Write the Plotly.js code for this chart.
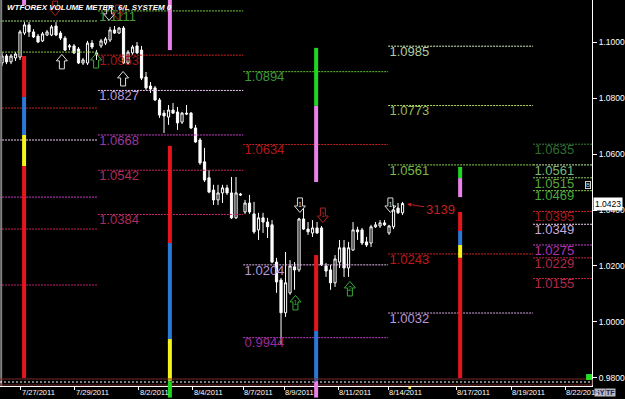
<!DOCTYPE html>
<html><head><meta charset="utf-8">
<script src="https://cdn.plot.ly/plotly-3.0.1.min.js"></script>
<style>html,body{margin:0;padding:0;background:#000;}#chart{width:625px;height:399px;}</style>
</head><body><div id="chart"></div>
<script>
// ---- candle data (4H bars, index = bar number) ----
const openP = [1.0925,1.0950,1.0929,1.0943,1.0946,1.1032,1.1061,1.1036,1.1021,1.1004,
1.1025,1.1025,1.1057,1.1032,1.1014,1.0982,1.0986,1.0975,1.0925,1.0925,
1.0996,1.0954,1.0986,1.0996,1.1007,1.1043,1.1032,1.1050,1.0925,1.0961,
1.0986,1.0971,1.0875,1.0843,1.0836,1.0793,1.0746,1.0732,1.0757,1.0750,
1.0714,1.0746,1.0746,1.0693,1.0650,1.0572,1.0515,1.0471,1.0436,1.0461,
1.0479,1.0461,1.0372,1.0457,1.0393,1.0425,1.0386,1.0329,1.0372,1.0357,
1.0347,1.0214,1.0150,1.0033,1.0104,1.0197,1.0186,1.0368,1.0332,1.0318,
1.0336,1.0336,1.0200,1.0186,1.0140,1.0214,1.0265,1.0193,1.0257,1.0329,
1.0329,1.0286,1.0282,1.0340,1.0343,1.0354,1.0318,1.0340,1.0407,1.0390];
const highP = [1.0964,1.0957,1.0957,1.0964,1.1043,1.1071,1.1071,1.1046,1.1029,1.1036,
1.1043,1.1061,1.1071,1.1039,1.1021,1.0993,1.0993,1.0982,1.0943,1.1004,
1.1007,1.0971,1.1011,1.1018,1.1054,1.1057,1.1054,1.1057,1.0971,1.0989,
1.1000,1.0986,1.0893,1.0857,1.0843,1.0800,1.0757,1.0775,1.0782,1.0768,
1.0750,1.0775,1.0750,1.0704,1.0657,1.0622,1.0543,1.0490,1.0490,1.0490,
1.0490,1.0518,1.0518,1.0461,1.0436,1.0454,1.0429,1.0390,1.0390,1.0372,
1.0364,1.0229,1.0157,1.0250,1.0221,1.0214,1.0372,1.0407,1.0357,1.0364,
1.0357,1.0343,1.0211,1.0204,1.0239,1.0293,1.0293,1.0286,1.0357,1.0340,
1.0336,1.0304,1.0347,1.0357,1.0364,1.0364,1.0347,1.0418,1.0425,1.0429];
const lowP = [1.0914,1.0921,1.0921,1.0932,1.0936,1.1025,1.1018,1.1014,1.0996,1.1000,
1.1021,1.1021,1.1021,1.1007,1.0968,1.0971,1.0957,1.0921,1.0918,1.0918,
1.0975,1.0936,1.0979,1.0989,1.1000,1.1029,1.1029,1.0921,1.0918,1.0954,
1.0957,1.0864,1.0829,1.0818,1.0789,1.0729,1.0675,1.0704,1.0743,1.0686,
1.0707,1.0739,1.0689,1.0640,1.0561,1.0500,1.0460,1.0418,1.0418,1.0425,
1.0454,1.0368,1.0368,1.0450,1.0386,1.0386,1.0315,1.0293,1.0318,1.0300,
1.0210,1.0104,0.9918,1.0018,1.0097,1.0115,1.0179,1.0329,1.0311,1.0304,
1.0315,1.0200,1.0161,1.0115,1.0125,1.0193,1.0161,1.0161,1.0254,1.0293,
1.0275,1.0268,1.0268,1.0336,1.0336,1.0343,1.0311,1.0332,1.0386,1.0382];
const closeP = [1.0950,1.0929,1.0950,1.0957,1.1036,1.1061,1.1036,1.1018,1.1000,1.1029,
1.1036,1.1054,1.1025,1.1014,1.0971,1.0986,1.0961,1.0925,1.0936,1.0996,
1.0982,1.0961,1.1004,1.1011,1.1043,1.1032,1.1050,1.0925,1.0964,1.0982,
1.0961,1.0871,1.0836,1.0832,1.0793,1.0739,1.0736,1.0757,1.0746,1.0711,
1.0746,1.0743,1.0693,1.0643,1.0568,1.0507,1.0464,1.0436,1.0461,1.0479,
1.0461,1.0372,1.0461,1.0454,1.0425,1.0393,1.0322,1.0372,1.0357,1.0340,
1.0214,1.0143,1.0033,1.0140,1.0200,1.0186,1.0368,1.0332,1.0322,1.0336,
1.0318,1.0204,1.0182,1.0140,1.0225,1.0265,1.0193,1.0265,1.0329,1.0322,
1.0282,1.0275,1.0340,1.0347,1.0354,1.0347,1.0343,1.0400,1.0390,1.0423];
const barIdx = openP.map((_, i) => i);

// ---- date ticks ----
const dateTickPos = [4.2, 16.2, 30.4, 42.4, 53.6, 62.7, 74.7, 85.8, 100.9, 113.1, 125.1];
const dateTickText = ['7/27/2011','7/29/2011','8/2/2011','8/4/2011','8/7/2011','8/9/2011','8/11/2011','8/14/2011','8/17/2011','8/19/2011','8/22/2011'];
const priceTicks = [0.98, 1.00, 1.02, 1.04, 1.06, 1.08, 1.10];
const priceTickText = ['0.9800','1.0000','1.0200','1.0400','1.0600','1.0800','1.1000'];
const currentPrice = 1.0423;

// ---- weekly level sections ----
const secStart = [-12, 21.3, 53.6, 85.8, 118.0];
const secEnd   = [21.3, 53.6, 85.8, 118.0, 131.1];
const secLevels = [
  [1.1075, 1.0964, 1.0764, 1.0650, 1.0446, 1.0332, 1.0132],
  [1.1111, 1.0953, 1.0827, 1.0668, 1.0542, 1.0384],
  [1.0894, 1.0634, 1.0204, 0.9944],
  [1.0985, 1.0773, 1.0561, 1.0243, 1.0032],
  [1.0635, 1.0561, 1.0515, 1.0469, 1.0395, 1.0349, 1.0275, 1.0229, 1.0155]
];
const secLineColors = [
  ['#a8e070','#80c840','#c82020','#f0c8f0','#c838c8','#c82050','#c02070'],
  ['#78c840','#c82020','#ecc8f4','#c840c8','#c82860','#c82870'],
  ['#60c830','#c82020','#e4b8f0','#c040c0'],
  ['#d4f0b8','#b4e060','#90d050','#d02020','#d4a8e4'],
  ['#3c7c3c','#c8f0a8','#90d060','#80d050','#d02030','#f0d4f0','#c840c8','#c82040','#c82040']
];
const secLabelColors = [
  ['#000','#000','#000','#000','#000','#000','#000'],
  ['#4a9a3a','#a01818','#b898d8','#9a3a9a','#b02a5a','#a82a5a'],
  ['#3a9a3a','#b01818','#b898d8','#9a2a9a'],
  ['#b0cca0','#98b858','#78b848','#c01818','#b898d8'],
  ['#2e6e2e','#78b878','#58a838','#48a838','#a81818','#c8a8dc','#b030b0','#b02848','#b02848']
];
const secShowLabels = [false, true, true, true, true];

// ---- coloured vertical volume bars ----
const vbarX = [4.9, 37.3, 69.8, 101.8];
const segBar    = [0,0,0,0,0, 1,1,1,1, 2,2,2,2, 3,3,3,3,3,3];
const segTop    = [1.1150,1.0950,1.0804,1.0668,1.0557, 1.1150,1.0629,1.0282,0.9939, 1.0979,1.0772,1.0239,0.9968, 1.0554,1.0514,1.0393,1.0325,1.0275,1.0229];
const segBottom = [1.1132,1.0804,1.0668,1.0557,0.9800, 1.0971,1.0282,0.9939,0.9790, 1.0772,1.0500,0.9968,0.9790, 1.0514,1.0446,1.0325,1.0275,1.0229,0.9800];
const segColor  = ['#e882e8','#e8141c','#2a78d8','#f4f41a','#e8141c', '#e882e8','#e8141c','#2a78d8','#f4f41a', '#1ed81e','#e882e8','#e8141c','#2a78d8', '#1ed81e','#e882e8','#e8141c','#2a78d8','#f4f41a','#e8141c'];
const belowAxisBarIdx = [1, 2];
const belowAxisColor = ['#1ed81e', '#e882e8'];

// ---- signal arrows ----
const upArrowX = [13.3, 20.9, 26.9, 65.2, 77.3];
const upArrowY = [1.0929, 1.0932, 1.0868, 1.0068, 1.0118];
const upArrowColor = ['#e0e0e0', '#3aa83a', '#e0e0e0', '#3aa83a', '#3aa83a'];
const upArrowNum = ['', '', '', '1', '2'];
const dnArrowX = [11.8, 23.8, 25.8, 66.2, 71.3, 86.3];
const dnArrowY = [1.1121, 1.1104, 1.1107, 1.0418, 1.0382, 1.0418];
const dnArrowColor = ['#a82020', '#d8d8d8', '#a82020', '#d8d8d8', '#b02020', '#d8d8d8'];
const dnArrowNum = ['1', '', '', '1', '1', '1'];
const volLabel = '3139';
const volLabelX = 90.0, volLabelY = 1.0421;

// arrow icon outline (pixel units around its anchor)
const ARROW_UP_PATH = 'M-2.5,-7 L-2.5,1 L-5.5,1 L0,7.5 L5.5,1 L2.5,1 L2.5,-7 Z';
const ARROW_DN_PATH = 'M-2.5,7 L-2.5,-1 L-5.5,-1 L0,-7.5 L5.5,-1 L2.5,-1 L2.5,7 Z';

const traces = [];
// level lines & labels
secLevels.forEach((lv, s) => {
  lv.forEach((v, k) => {
    traces.push({type:'scatter', mode:'lines', x:[secStart[s], secEnd[s]], y:[v, v],
      line:{color:secLineColors[s][k], width:1, dash:'2px,1px'}, hoverinfo:'skip', showlegend:false});
  });
  if (secShowLabels[s]) {
    traces.push({type:'scatter', mode:'text', x:lv.map(() => secStart[s] + 0.3), y:lv,
      text:lv.map(v => v.toFixed(4)), textposition:'bottom right',
      textfont:{family:'Liberation Sans, Arial', size:13, color:secLabelColors[s]},
      hoverinfo:'skip', showlegend:false, cliponaxis:false});
  }
});
// vertical bars
segBar.forEach((b, k) => {
  traces.push({type:'scatter', mode:'lines', x:[vbarX[b], vbarX[b]], y:[segTop[k], segBottom[k]],
    line:{color:segColor[k], width:4}, hoverinfo:'skip', showlegend:false});
});
// candles
traces.push({type:'candlestick', x:barIdx, open:openP, high:highP, low:lowP, close:closeP,
  increasing:{line:{color:'#ffffff', width:1}, fillcolor:'#000000'},
  decreasing:{line:{color:'#ffffff', width:1}, fillcolor:'#ffffff'},
  whiskerwidth:0, hoverinfo:'skip', showlegend:false});
// numbers inside arrows
traces.push({type:'scatter', mode:'text', x:upArrowX, y:upArrowY, text:upArrowNum,
  textposition:'middle center', textfont:{family:'Liberation Sans', size:7, color:upArrowColor}, hoverinfo:'skip', showlegend:false});
traces.push({type:'scatter', mode:'text', x:dnArrowX, y:dnArrowY, text:dnArrowNum,
  textposition:'middle center', textfont:{family:'Liberation Sans', size:7, color:dnArrowColor}, hoverinfo:'skip', showlegend:false});

const shapes = [
  {type:'line', xref:'paper', yref:'paper', x0:0.002, x1:0.002, y0:0, y1:1, line:{color:'#808080', width:2}},
  {type:'rect', xref:'paper', yref:'paper', x0:0, x1:1, y0:0.0026, y1:0.0181, line:{color:'#7a2a2a', width:1}, fillcolor:'rgba(0,0,0,0)'},
  {type:'line', xref:'paper', yref:'paper', x0:0, x1:1, y0:0.0104, y1:0.0104, line:{color:'#ffffff', width:1, dash:'2px,2px'}},
  {type:'rect', xref:'paper', yref:'paper', x0:0.990, x1:1.0, y0:0.0155, y1:0.031, line:{width:0}, fillcolor:'#22e022'},
  {type:'rect', xref:'x', yref:'paper', x0:90.3, x1:90.9, y0:-0.008, y1:-0.001, line:{width:0}, fillcolor:'#f0e040'}
];
belowAxisBarIdx.forEach((b, k) => {
  shapes.push({type:'line', xref:'x', yref:'paper', x0:vbarX[b], x1:vbarX[b], y0:-0.03, y1:0.012, line:{color:belowAxisColor[k], width:4}});
});
upArrowX.forEach((x, k) => {
  shapes.push({type:'path', xref:'x', yref:'y', xsizemode:'pixel', ysizemode:'pixel', xanchor:x, yanchor:upArrowY[k],
    path:ARROW_UP_PATH, line:{color:upArrowColor[k], width:1}, fillcolor:'rgba(0,0,0,0)'});
});
dnArrowX.forEach((x, k) => {
  shapes.push({type:'path', xref:'x', yref:'y', xsizemode:'pixel', ysizemode:'pixel', xanchor:x, yanchor:dnArrowY[k],
    path:ARROW_DN_PATH, line:{color:dnArrowColor[k], width:1}, fillcolor:'rgba(0,0,0,0)'});
});

const annotations = [
  {xref:'paper', yref:'paper', x:0.008, y:0.997, xanchor:'left', yanchor:'top', showarrow:false,
   text:'<b><i>WTFOREX VOLUME METER  6/L SYSTEM 0</i></b>', font:{family:'Liberation Sans, Arial', size:8, color:'#ffffff'}},
  {xref:'paper', yref:'y', x:1, y:currentPrice, xanchor:'left', yanchor:'middle', xshift:1, showarrow:false,
   text:currentPrice.toFixed(4), bgcolor:'#ffffff', borderpad:1, font:{family:'Liberation Sans, Arial', size:8.5, color:'#000000'}},
  {xref:'x', yref:'y', x:volLabelX, y:volLabelY, ax:33, ay:5, showarrow:true, arrowhead:2, arrowsize:0.8, arrowwidth:1,
   arrowcolor:'#c02020', text:volLabel, font:{family:'Liberation Sans, Arial', size:13, color:'#c02020'}},
  {xref:'paper', yref:'paper', x:1.003, y:-0.016, xanchor:'left', yanchor:'middle', showarrow:false, text:'<b>SY</b>',
   bgcolor:'#b8b8c0', borderpad:0, font:{family:'Liberation Sans, Arial', size:7, color:'#202050'}},
  {xref:'paper', yref:'paper', x:1.022, y:-0.016, xanchor:'left', yanchor:'middle', showarrow:false, text:'<b>TF</b>',
   bgcolor:'#b8b8c0', borderpad:0, font:{family:'Liberation Sans, Arial', size:7, color:'#202050'}},
  {xref:'paper', yref:'y', x:0.999, y:1.0490, xanchor:'right', yanchor:'middle', showarrow:false, text:'B',
   bordercolor:'#cccccc', borderwidth:1, borderpad:0, font:{family:'Liberation Sans, Arial', size:6, color:'#cccccc'}}
];
dateTickPos.forEach((p, k) => {
  annotations.push({xref:'x', yref:'paper', x:p, y:-0.0165, xanchor:'left', yanchor:'middle', xshift:-1, showarrow:false,
    text:dateTickText[k], font:{family:'Liberation Sans, Arial', size:7.5, color:'#ffffff'}});
});

const layout = {
  width:625, height:399, paper_bgcolor:'#000000', plot_bgcolor:'#000000',
  margin:{l:0, r:33, t:0, b:13}, showlegend:false, dragmode:false,
  xaxis:{range:[-0.45, 131.1], showgrid:false, zeroline:false, tickmode:'array', tickvals:dateTickPos,
    ticks:'outside', ticklen:3, tickcolor:'#ffffff', showticklabels:false,
    showline:true, linecolor:'#ffffff', linewidth:1, rangeslider:{visible:false}, fixedrange:true},
  yaxis:{side:'right', range:[0.97714, 1.1150], showgrid:false, zeroline:false, tickmode:'array', tickvals:priceTicks, ticktext:priceTickText,
    ticks:'outside', ticklen:4, tickcolor:'#ffffff', tickfont:{family:'Liberation Sans, Arial', size:8.5, color:'#ffffff'},
    showline:true, linecolor:'#ffffff', linewidth:1, fixedrange:true},
  shapes:shapes, annotations:annotations
};
Plotly.newPlot('chart', traces, layout, {staticPlot:true, displayModeBar:false});
</script>
</body></html>
